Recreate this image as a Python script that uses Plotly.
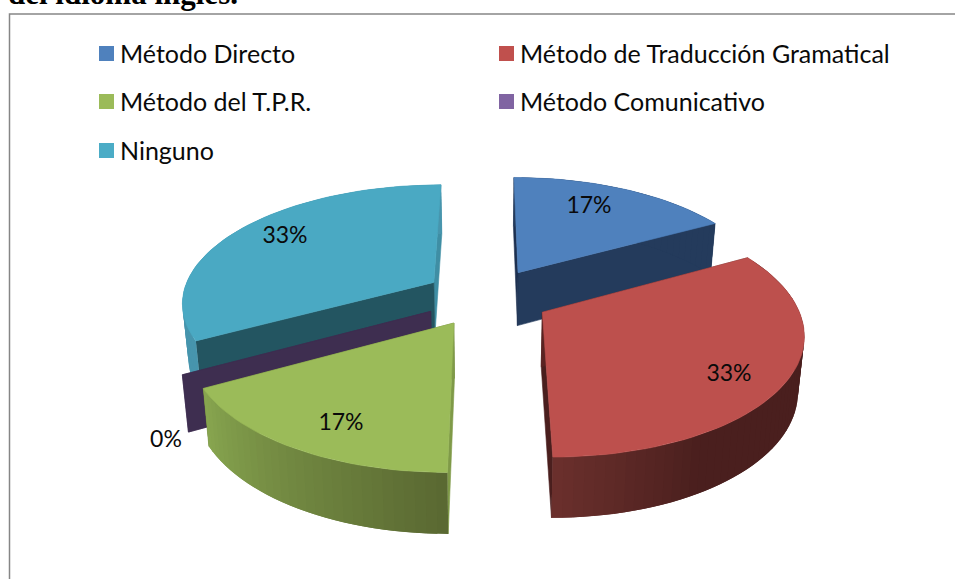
import math
import plotly.graph_objects as go

# ---- data ----
categories = ["Método Directo", "Método de Traducción Gramatical", "Método del T.P.R.",
              "Método Comunicativo", "Ninguno"]
values = [17, 33, 17, 0, 33]
labels = ["17%", "33%", "17%", "0%", "33%"]
heading = "del idioma inglés."

# ---- styles ----
top_colors = ["#4f81bd", "#bd504d", "#9bbb59", "#8064a2", "#4aa9c3"]
legend_colors = ["#4f81bd", "#c0504d", "#9bbb59", "#8064a2", "#4bacc6"]
start_wall = ["#1d3050", "#5a2322", "#7f9a48", "#3e2e50", "#235561"]
end_wall = ["#243b5c", "#4a1f1e", "#6a8038", "#3e2e50", "#3f8ea4"]
rim_stops = [
    [(0, "#243b5c"), (62, "#243b5c")],
    [(60, "#4a1f1e"), (150, "#4a1f1e"), (180, "#6b302d")],
    [(178, "#586630"), (240, "#87a54f")],
    [(240, "#3e2e50"), (241, "#3e2e50")],
    [(240, "#4795ad"), (360, "#4795ad")],
]
draw_order = [4, 3, 0, 2, 1]
label_pos = [(589, 207), (729, 375), (341, 424), (166, 441), (285, 237)]
legend_pos = [(106.5, 53.5), (506.5, 53.5), (106.5, 101.5), (506.5, 101.5), (106.5, 150.5)]

# ---- perspective of the exploded pie ----
CX, Y0, A, K, RX, PULL = 487, -453, 750, 0.156, 252, 0.25
FONT = "Lato"


def project(u, v):
    w = 1 + K * v
    return CX + RX * u / w, Y0 + A / w


def lower(pt, v):
    w = 1 + K * v
    return CX + (pt[0] - CX) * 0.98, pt[1] + 22 + 32 / w


def hex2rgb(c):
    return [int(c[i:i + 2], 16) for i in (1, 3, 5)]


def shade(stops, deg):
    if deg <= stops[0][0]:
        return stops[0][1]
    for (a, ca), (b, cb) in zip(stops, stops[1:]):
        if deg <= b:
            t = (deg - a) / (b - a)
            m = [round(p + (q - p) * t) for p, q in zip(hex2rgb(ca), hex2rgb(cb))]
            return "rgb(%d,%d,%d)" % tuple(m)
    return stops[-1][1]


fig = go.Figure()


def poly(pts, color, width=0.6):
    xs = [p[0] for p in pts] + [pts[0][0]]
    ys = [p[1] for p in pts] + [pts[0][1]]
    fig.add_trace(go.Scatter(x=xs, y=ys, mode="lines", fill="toself", fillcolor=color,
                             line=dict(color=color, width=width), hoverinfo="skip",
                             showlegend=False))


total = sum(values)
starts, acc = [], 0.0
for val in values:
    starts.append(acc)
    acc += val / total * 360

for i in draw_order:
    a0 = starts[i]
    a1 = a0 + values[i] / total * 360
    mid = math.radians((a0 + a1) / 2)
    ou, ov = PULL * math.sin(mid), PULL * math.cos(mid)
    apex = project(ou, ov)
    apex_low = lower(apex, ov)

    def rim(deg):
        r = math.radians(deg)
        u, v = ou + math.sin(r), ov + math.cos(r)
        p = project(u, v)
        return p, lower(p, v)

    steps = max(1, int((a1 - a0) / 2))
    degs = [a0 + (a1 - a0) * s / steps for s in range(steps + 1)]
    # radial walls
    p, q = rim(a1)
    poly([apex, p, q, apex_low], end_wall[i])
    p, q = rim(a0)
    poly([apex, p, q, apex_low], start_wall[i])
    # outer wall, painted from the far end so each strip overlaps the seam of the last
    if a1 > a0:
        n = len(degs) - 1
        for s in range(n):
            j = min(s + 2, n)
            seg = [degs[k] for k in range(s, j + 1)]
            tops = [rim(d)[0] for d in seg]
            lows = [rim(d)[1] for d in seg]
            poly(tops + lows[::-1], shade(rim_stops[i], (degs[s] + degs[s + 1]) / 2), width=0)
    # top face
    if a1 > a0:
        poly([apex] + [rim(d)[0] for d in degs], top_colors[i])

# value labels
for (x, y), t in zip(label_pos, labels):
    fig.add_trace(go.Scatter(x=[x], y=[y], mode="text", text=[t], textposition="middle center",
                             textfont=dict(family=FONT, size=23, color="#0a0a0a"),
                             hoverinfo="skip", showlegend=False))

# legend built from swatches and labels
for (x, y), name, c in zip(legend_pos, categories, legend_colors):
    fig.add_trace(go.Scatter(x=[x], y=[y], mode="markers", hoverinfo="skip", showlegend=False,
                             marker=dict(symbol="square", size=15, color=c, line=dict(width=0))))
    fig.add_annotation(x=x + 11.5, y=y - 1, text=name, showarrow=False, xanchor="left", yanchor="middle",
                       font=dict(family=FONT, size=25, color="#0a0a0a"))

fig.add_annotation(xref="paper", yref="paper", x=6 / 955, y=1 + 6 / 579, text="<b>%s</b>" % heading,
                   showarrow=False, xanchor="left", yanchor="middle",
                   font=dict(family="Liberation Serif", size=31, color="#000000"))

fig.add_shape(type="rect", x0=9.5, y0=14, x1=990, y1=640, line=dict(color="#868686", width=1.5),
              fillcolor="rgba(0,0,0,0)", layer="below")

fig.update_layout(width=955, height=579, margin=dict(l=0, r=0, t=0, b=0), showlegend=False,
                  plot_bgcolor="white", paper_bgcolor="white",
                  xaxis=dict(range=[0, 955], visible=False, fixedrange=True),
                  yaxis=dict(range=[579, 0], visible=False, fixedrange=True))
fig.write_html("out.html", config={"displayModeBar": False},
               post_script="document.body.style.margin='0';document.body.style.overflow='hidden';")
